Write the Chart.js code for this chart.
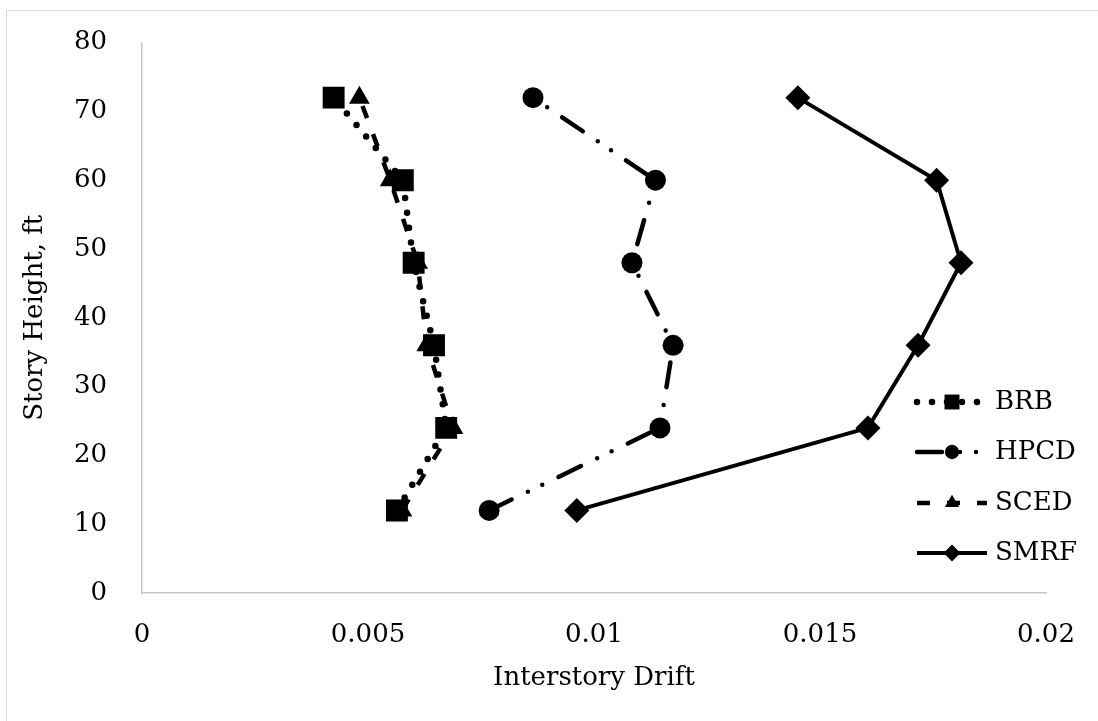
<!DOCTYPE html>
<html>
<head>
<meta charset="utf-8">
<script src="https://cdn.jsdelivr.net/npm/chart.js@4.4.0/dist/chart.umd.min.js"></script>
<style>
  html, body { margin: 0; padding: 0; background: #fff; }
  #wrap { position: relative; width: 1098px; height: 721px; overflow: hidden; }
  #frame { position: absolute; left: 6px; top: 10px; width: 1100px; height: 720px; border: 1px solid #d9d9d9; }
  canvas { position: absolute; left: 0; top: 0; }
</style>
</head>
<body>
<div id="wrap">
  <div id="frame"></div>
  <canvas id="driftChart" width="1098" height="721"></canvas>
</div>
<script>
// story heights (ft) and interstory drift per system
const storyHeights = [12, 24, 36, 48, 60, 72];
const brbDrift  = [0.00564, 0.00673, 0.00646, 0.00601, 0.00577, 0.00424];
const hpcdDrift = [0.00768, 0.01146, 0.01175, 0.01084, 0.01136, 0.00865];
const scedDrift = [0.00575, 0.00688, 0.00630, 0.00610, 0.00549, 0.00481];
const smrfDrift = [0.00962, 0.01606, 0.01717, 0.01812, 0.01758, 0.01451];

const seriesNames = ['BRB', 'HPCD', 'SCED', 'SMRF'];
const xTickLabels = ['0', '0.005', '0.01', '0.015', '0.02'];
const yTickLabels = ['0', '10', '20', '30', '40', '50', '60', '70', '80'];

const FONT = '"DejaVu Serif", "Liberation Serif", serif';

function toPoints(xs) {
  return xs.map((x, i) => ({ x: x, y: storyHeights[i] }));
}

// legend drawn by hand so each entry shows the line pattern with its marker
const lineLegend = {
  id: 'lineLegend',
  afterDraw(chart) {
    const ctx = chart.ctx;
    const rows = [402, 452, 503, 553];
    const x0 = 917, x1 = 987, textX = 995;
    chart.data.datasets.forEach((ds, i) => {
      const y = rows[i];
      ctx.save();
      ctx.strokeStyle = ds.borderColor;
      ctx.lineWidth = ds.borderWidth;
      ctx.lineCap = ds.borderCapStyle || 'butt';
      ctx.setLineDash(ds.borderDash || []);
      ctx.beginPath();
      ctx.moveTo(x0, y);
      ctx.lineTo(x1, y);
      ctx.stroke();
      ctx.setLineDash([]);
      ctx.fillStyle = ds.pointBackgroundColor;
      Chart.helpers.drawPoint(ctx, {
        pointStyle: ds.pointStyle,
        radius: ds.pointRadius * 0.68,
        rotation: 0,
        borderWidth: 0
      }, (x0 + x1) / 2, y);
      ctx.fillStyle = '#000';
      ctx.font = '26px ' + FONT;
      ctx.textAlign = 'left';
      ctx.textBaseline = 'middle';
      ctx.fillText(ds.label, textX, y);
      ctx.restore();
    });
  }
};

const common = {
  showLine: true,
  tension: 0,
  borderColor: '#000',
  pointBackgroundColor: '#000',
  pointBorderColor: '#000',
  pointBorderWidth: 0,
  pointHoverRadius: 0
};

new Chart(document.getElementById('driftChart'), {
  type: 'scatter',
  data: {
    datasets: [
      Object.assign({}, common, {
        label: seriesNames[0], data: toPoints(brbDrift),
        borderWidth: 6.5, borderDash: [0, 15], borderCapStyle: 'round',
        pointStyle: 'rect', pointRadius: 15.5
      }),
      Object.assign({}, common, {
        label: seriesNames[1], data: toPoints(hpcdDrift),
        borderWidth: 4.5, borderDash: [25, 18, 0, 16, 0, 18], borderCapStyle: 'round',
        pointStyle: 'circle', pointRadius: 10.5
      }),
      Object.assign({}, common, {
        label: seriesNames[2], data: toPoints(scedDrift),
        borderWidth: 4.5, borderDash: [13, 17], borderCapStyle: 'butt',
        pointStyle: 'triangle', pointRadius: 12
      }),
      Object.assign({}, common, {
        label: seriesNames[3], data: toPoints(smrfDrift),
        borderWidth: 4, borderDash: [], borderCapStyle: 'butt',
        pointStyle: 'rectRot', pointRadius: 12.5
      })
    ]
  },
  options: {
    responsive: false,
    animation: false,
    events: [],
    layout: { padding: { top: 40, right: 52, left: 0, bottom: 0 } },
    plugins: {
      legend: { display: false },
      tooltip: { enabled: false }
    },
    scales: {
      x: {
        type: 'linear',
        min: 0, max: 0.02,
        afterFit: s => { s.height = 128; },
        grid: { display: false },
        border: { display: true, color: '#c6c6c6', width: 1.5 },
        ticks: {
          stepSize: 0.005,
          padding: 19,
          color: '#000',
          font: { family: FONT, size: 26 },
          callback: (v, i) => xTickLabels[i]
        },
        title: {
          display: true,
          text: 'Interstory Drift',
          color: '#000',
          font: { family: FONT, size: 26 },
          padding: { top: 0, bottom: 27 }
        }
      },
      y: {
        type: 'linear',
        min: 0, max: 80,
        afterFit: s => { s.width = 142; },
        grid: { display: false },
        border: { display: true, color: '#c6c6c6', width: 1.5 },
        ticks: {
          stepSize: 10,
          padding: 27,
          color: '#000',
          font: { family: FONT, size: 26 },
          callback: (v, i) => yTickLabels[i]
        },
        title: {
          display: true,
          text: 'Story Height, ft',
          color: '#000',
          font: { family: FONT, size: 26 },
          padding: { top: 20, bottom: 0 }
        }
      }
    }
  },
  plugins: [lineLegend]
});
</script>
</body>
</html>
